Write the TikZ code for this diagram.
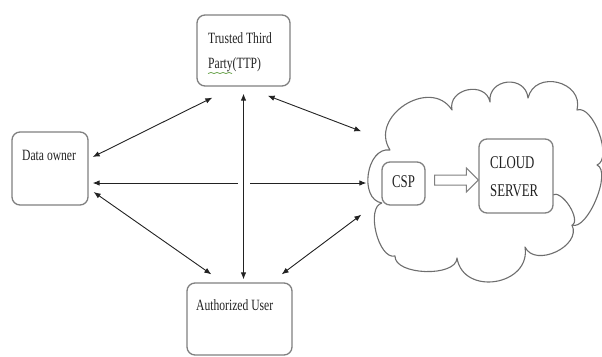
\documentclass[tikz,border=0pt]{standalone}
\usepackage{fontspec}
\setmainfont{Liberation Serif}
\usepackage{graphicx}
\usetikzlibrary{arrows.meta,calc}
\definecolor{boxgray}{HTML}{808080}
\definecolor{cloudgray}{HTML}{6E6E6E}
\definecolor{inkblack}{HTML}{222222}
\definecolor{spellgreen}{HTML}{5A9A3A}
\newcommand\vstretch[1]{\scalebox{1}[1.35]{#1}}
\begin{document}
\begin{tikzpicture}[x=1pt,y=-1pt,
  box/.style={draw=boxgray, line width=1.3pt, rounded corners=8pt, fill=white, inner sep=0pt},
  lbl/.style={anchor=base west, inner sep=0pt, font=\fontsize{11.6}{14}\selectfont, text=inkblack},
  biglbl/.style={anchor=base west, inner sep=0pt, font=\fontsize{12.8}{15}\selectfont, text=inkblack},
  link/.style={draw=inkblack, line width=0.9pt, {Latex[length=7pt,width=5.5pt]}-{Latex[length=7pt,width=5.5pt]}},
  cloudline/.style={draw=cloudgray, line width=1.1pt}]
\useasboundingbox (0,0) rectangle (602,356);

% cloud outline
\draw[cloudline, fill=white, line join=round]
  (382,203) to[bend left=90, looseness=1.14] (390,150)
            to[bend left=90, looseness=1.38] (452,110)
            to[bend left=90, looseness=1.45] (490,102)
            to[bend left=90, looseness=1.6] (528,98)
            to[bend left=90, looseness=1.5] (577,110)
            to[bend left=90, looseness=0.75] (597,165)
            to[bend left=90, looseness=0.65] (572,225)
            to[bend left=90, looseness=1.15] (525,247)
            to[bend left=90, looseness=1.45] (457,258)
            to[bend left=90, looseness=0.8] (395,256)
            to[bend left=90, looseness=0.8] (382,203);
\draw[cloudline] (552,195) to[bend left=90, looseness=0.8] (572,226);

% boxes
\node[box, minimum width=93pt, minimum height=71pt] (ttp) at (243.5,50.5) {};
\node[box, minimum width=76pt, minimum height=73pt] (do) at (50,168.5) {};
\node[box, minimum width=105pt, minimum height=72pt] (auth) at (239.5,319) {};
\node[box, minimum width=43pt, minimum height=43pt] (csp) at (403.5,183.5) {};
\node[box, minimum width=74pt, minimum height=74pt] (cs) at (516,176) {};

% labels
\node[lbl] (t1) at (208,43) {\vstretch{Trusted Third}};
\node[lbl] (t2) at (208,68) {\vstretch{Party(TTP)}};
\draw[spellgreen, line width=0.7pt] (208,73.5) -- (211,72.5) -- (214,73.5) -- (217,72.5) -- (220,73.5) -- (223,72.5) -- (226,73.5) -- (229,72.5) -- (232,73.5);
\node[lbl] (t3) at (22,160) {\vstretch{Data owner}};
\node[lbl] (t4) at (196,310) {\vstretch{Authorized User}};
\node[biglbl] (t5) at (392,187) {\scalebox{1}[1.4]{CSP}};
\node[biglbl] (t6) at (490,168) {\scalebox{1}[1.4]{CLOUD}};
\node[biglbl] (t7) at (490,196) {\scalebox{1}[1.4]{SERVER}};

% block arrow CSP -> CLOUD SERVER
\draw[boxgray, line width=1pt, fill=white, line join=miter]
  ($(csp.east)+(9,-8.5)$) -- ($(cs.west)+(-12,-1)$) -- ($(cs.west)+(-12,-8)$)
  -- ($(cs.west)+(0,4)$) -- ($(cs.west)+(-12,16)$) -- ($(cs.west)+(-12,9)$)
  -- ($(csp.east)+(9,1.5)$) -- cycle;

% connectors
\draw[link] ($(do.east)+(4,-11.5)$) -- ($(ttp.south west)+(16,11)$);
\draw[link] ($(do.east)+(4,14.5)$) -- ($(csp.west)+(-15,-0.5)$);
\draw[link] ($(do.east)+(5,23.5)$) -- ($(auth.north west)+(25,-8)$);
\draw[link] ($(ttp.south east)+(-23,9)$) -- ($(csp.north west)+(-20,-30)$);
\draw[link] ($(auth.north east)+(-11,-8)$) -- ($(csp.south west)+(-20,9)$);
\fill[white] (237.5,179.5) rectangle (249.5,186.5);
\draw[link] ($(ttp.south)+(0,7)$) -- ($(auth.north)+(4,-3)$);
\end{tikzpicture}
\end{document}
